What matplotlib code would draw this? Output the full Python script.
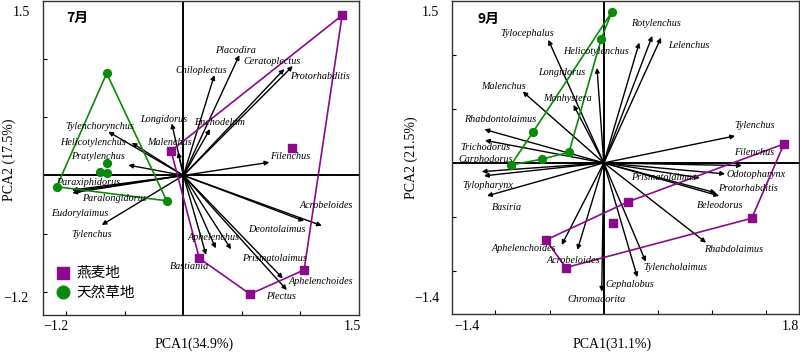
import matplotlib
matplotlib.use('Agg')
import matplotlib.pyplot as plt

# ---------------- July (7月) ----------------
jul_species = ['Placodira', 'Chiloplectus', 'Ceratoplectus', 'Protorhabditis', 'Enchodelum',
               'Filenchus', 'Longidorus', 'Malenchus', 'Tylenchorynchus', 'Helicotylenchus',
               'Pratylenchus', 'Paraxiphidorus', 'Eudorylaimus', 'Paralongidorus', 'Tylenchus',
               'Bastiania', 'Aphelenchus', 'Prismatolaimus', 'Aphelenchoides', 'Plectus',
               'Acrobeloides', 'Deontolaimus']
jul_x = [0.478, 0.264, 0.862, 0.934, 0.227, 0.734, -0.100, -0.046, -0.642, -0.442,
         -0.471, -0.952, -0.950, -0.930, -0.698, 0.193, 0.276, 0.407, 0.849, 0.883,
         1.182, 1.031]
jul_y = [1.035, 0.863, 0.915, 0.941, 0.399, 0.113, 0.448, 0.200, 0.376, 0.281,
         0.089, -0.126, -0.150, -0.135, -0.426, -0.684, -0.627, -0.635, -0.885, -0.985,
         -0.432, -0.392]
jul_lab_x = [0.441, 0.150, 0.757, 1.167, 0.313, 0.911, -0.166, -0.115, -0.713, -0.773,
             -0.730, -0.815, -0.884, -0.585, -0.781, 0.056, 0.262, 0.774, 1.176, 0.834,
             1.219, 0.800]
jul_lab_y = [1.078, 0.906, 0.984, 0.853, 0.451, 0.167, 0.485, 0.279, 0.425, 0.279,
             0.167, -0.057, -0.323, -0.194, -0.505, -0.779, -0.530, -0.710, -0.908, -1.037,
             -0.255, -0.469]
jul_oat_x = [1.356, 0.925, -0.106, 0.136, 0.569, 1.031]
jul_oat_y = [1.377, 0.238, 0.212, -0.713, -1.020, -0.813]
jul_oat_hull = [0, 5, 4, 3, 2, 0]
jul_grass_x = [-0.656, -0.656, -0.713, -0.656, -1.083, -0.143]
jul_grass_y = [0.878, 0.104, 0.032, 0.018, -0.097, -0.218]
jul_grass_hull = [0, 4, 5, 0]

# ---------------- September (9月) ----------------
sep_species = ['Tylocephalus', 'Helicotylenchus', 'Rotylenchus', 'Lelenchus', 'Longidorus',
               'Monhystera', 'Malenchus', 'Rhabdontolaimus', 'Trichodorus', 'Carphodorus',
               'Tylopharynx', 'Basiria', 'Aphelenchoides', 'Acrobeloides', 'Chromadorita',
               'Cephalobus', 'Tylencholaimus', 'Rhabdolaimus', 'Beleodorus', 'Protorhabditis',
               'Prismatolaimus', 'Odotopharynx', 'Filenchus', 'Tylenchus']
sep_x = [-0.512, 0.327, 0.447, 0.528, -0.063, -0.280, -0.748, -1.101, -1.096, -1.126,
         -1.105, -1.077, -0.388, -0.244, -0.019, 0.309, 0.387, 0.943, 1.035, 1.063,
         0.887, 1.118, 1.272, 1.210]
sep_y = [1.140, 1.115, 1.177, 1.161, 0.880, 0.538, 0.661, 0.310, 0.209, -0.081,
         -0.120, -0.306, -0.760, -0.806, -1.193, -1.059, -0.915, -0.739, -0.278, -0.306,
         -0.139, -0.102, -0.025, 0.250]
sep_lab_x = [-0.708, -0.072, 0.482, 0.781, -0.386, -0.339, -0.921, -0.958, -1.096, -1.087,
             -1.068, -0.893, -0.736, -0.284, -0.067, 0.242, 0.657, 1.201, 1.072, 1.330,
             0.546, 1.404, 1.386, 1.390]
sep_lab_y = [1.196, 1.029, 1.288, 1.087, 0.834, 0.593, 0.707, 0.399, 0.142, 0.034,
             -0.210, -0.411, -0.797, -0.905, -1.263, -1.124, -0.967, -0.806, -0.399, -0.234,
             -0.133, -0.111, 0.099, 0.343]
sep_oat_x = [1.662, 1.364, 0.226, 0.088, -0.533, -0.351]
sep_oat_y = [0.176, -0.513, -0.359, -0.559, -0.714, -0.970]
sep_oat_hull = [4, 2, 0, 1, 5, 4]
sep_grass_x = [0.073, -0.024, -0.650, -0.321, -0.573, -0.856]
sep_grass_y = [1.397, 1.149, 0.290, 0.099, 0.034, -0.019]
sep_grass_hull = [5, 2, 0, 1, 3, 4, 5]

OAT = '#8B0A8B'
GRASS = '#0A8A0A'
W, H = 800, 353

fig = plt.figure(figsize=(8, 3.53), dpi=100)
serif = 'Liberation Serif'
cjk = ['Noto Sans CJK SC', 'DejaVu Sans']


def px(x, y):
    return x / W, 1 - y / H


def panel(rect, xlim, ylim, xt, yt, species, sx, sy, lx, ly,
          ox, oy, ohull, gx, gy, ghull, title, title_pos):
    ax = fig.add_axes(rect)
    ax.set_xlim(*xlim)
    ax.set_ylim(*ylim)
    for s in ax.spines.values():
        s.set_color('#333333')
        s.set_linewidth(1.0)
    ax.set_xticks(xt)
    ax.set_yticks(yt)
    ax.tick_params(direction='in', length=3, width=0.8, labelbottom=False, labelleft=False)
    ax.axhline(0, color='black', lw=1.4, zorder=1)
    ax.axvline(0, color='black', lw=1.4, zorder=1)
    for name, x, y, tx, ty in zip(species, sx, sy, lx, ly):
        ax.annotate('', xy=(x, y), xytext=(0, 0),
                    arrowprops=dict(arrowstyle='-|>', color='black', lw=1.0,
                                    mutation_scale=6.5, shrinkA=0, shrinkB=0), zorder=2)
        ax.text(tx, ty, name, fontsize=7.3, family=serif, style='italic',
                ha='center', va='center', zorder=4)
    ax.plot([ox[i] for i in ohull], [oy[i] for i in ohull], color=OAT, lw=1.2, zorder=3)
    ax.plot([gx[i] for i in ghull], [gy[i] for i in ghull], color=GRASS, lw=1.2, zorder=3)
    so = ax.scatter(ox, oy, marker='s', s=30, color=OAT, zorder=5, label='燕麦地')
    sg = ax.scatter(gx, gy, marker='o', s=32, color=GRASS, zorder=5, label='天然草地')
    fig.text(*px(*title_pos), title, fontsize=10, fontweight='bold', family=cjk,
             ha='center', va='center')
    return ax, so, sg


axL, so, sg = panel([43 / W, 38 / H, 316 / W, 314 / H], (-1.2, 1.5), (-1.2, 1.5),
                    [-1.0, -0.5, 0.5, 1.0], [-1.0, -0.5, 0.5, 1.0],
                    jul_species, jul_x, jul_y, jul_lab_x, jul_lab_y,
                    jul_oat_x, jul_oat_y, jul_oat_hull,
                    jul_grass_x, jul_grass_y, jul_grass_hull, '7月', (77, 18))
axR, _, _ = panel([452 / W, 39 / H, 347 / W, 313 / H], (-1.4, 1.8), (-1.4, 1.5),
                  [-1.0, -0.5, 0.5, 1.0, 1.5], [-1.0, -0.5, 0.5, 1.0],
                  sep_species, sep_x, sep_y, sep_lab_x, sep_lab_y,
                  sep_oat_x, sep_oat_y, sep_oat_hull,
                  sep_grass_x, sep_grass_y, sep_grass_hull, '9月', (488, 19))

leg = axL.legend(handles=[so, sg], loc='lower left', bbox_to_anchor=(0.04, 0.05),
                 frameon=False, prop={'family': cjk, 'size': 10.5},
                 markerscale=1.6, handletextpad=0.4, labelspacing=0.4,
                 borderpad=0, handlelength=1.0, borderaxespad=0)

# extreme tick labels and axis titles
tl = dict(fontsize=10, family=serif, ha='center', va='center')
fig.text(*px(56, 327), '\u22121.2', **tl)
fig.text(*px(352, 327), '1.5', **tl)
fig.text(*px(21, 13), '1.5', **tl)
fig.text(*px(16, 298), '\u22121.2', **tl)
fig.text(*px(467, 327), '\u22121.4', **tl)
fig.text(*px(790, 327), '1.8', **tl)
fig.text(*px(430, 13), '1.5', **tl)
fig.text(*px(427, 298), '\u22121.4', **tl)
fig.text(*px(194, 344), 'PCA1(34.9%)', **tl)
fig.text(*px(612, 344), 'PCA1(31.1%)', **tl)
fig.text(*px(9, 160), 'PCA2 (17.5%)', rotation=90, **tl)
fig.text(*px(411, 158), 'PCA2 (21.5%)', rotation=90, **tl)

fig.savefig('out.png', dpi=100)
